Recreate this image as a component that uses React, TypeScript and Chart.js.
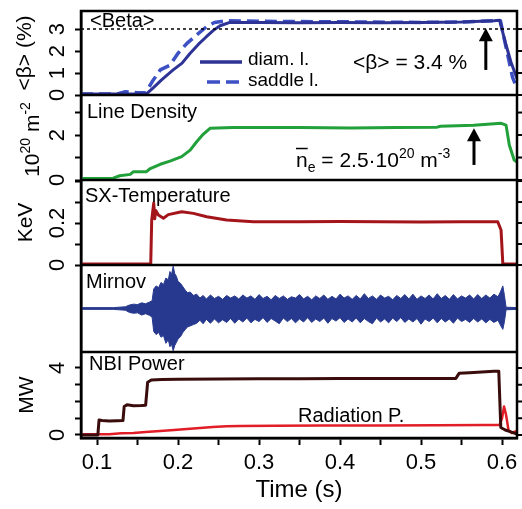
import { useEffect, useRef } from 'react';
import { Chart, registerables } from 'chart.js';

Chart.register(...registerables);

const FONT = '"Liberation Sans", Arial, Helvetica, sans-serif';

// ---------- time axis ----------
const timeMin = 0.0802;
const timeMax = 0.6185;
const timeTickLabels = [0.1, 0.2, 0.3, 0.4, 0.5, 0.6];

// ---------- <Beta> panel ----------
const betaDiamT = [0.0802, 0.161, 0.170, 0.180, 0.194, 0.205, 0.215, 0.225, 0.235, 0.244, 0.252, 0.264, 0.300, 0.350, 0.400, 0.450, 0.500, 0.550, 0.590, 0.597, 0.604, 0.611, 0.6185];
const betaDiamV = [0.05, 0.05, 0.35, 0.70, 1.14, 1.45, 1.90, 2.30, 2.65, 2.95, 3.15, 3.30, 3.30, 3.28, 3.30, 3.28, 3.30, 3.32, 3.38, 3.40, 2.40, 1.50, 0.75];
const betaSaddleT = [0.0802, 0.125, 0.135, 0.150, 0.160, 0.168, 0.178, 0.190, 0.200, 0.211, 0.222, 0.235, 0.245, 0.260, 0.300, 0.400, 0.500, 0.550, 0.590, 0.598, 0.606, 0.613, 0.6185];
const betaSaddleV = [0.05, 0.05, 0.15, 0.10, 0.10, 0.60, 1.14, 1.35, 1.90, 2.35, 2.70, 3.10, 3.30, 3.38, 3.35, 3.33, 3.30, 3.32, 3.38, 3.38, 2.00, 0.80, 0.30];
const betaRefLevel = 3.0;
const betaTickLabels = [0, 1, 2, 3];
const betaArrow = { t: 0.58, from: 1.14, to: 3.03 };

// ---------- Line density panel ----------
const densityT = [0.0802, 0.120, 0.128, 0.141, 0.145, 0.161, 0.165, 0.178, 0.190, 0.2045, 0.215, 0.223, 0.231, 0.2395, 0.268, 0.302, 0.350, 0.414, 0.470, 0.520, 0.524, 0.565, 0.599, 0.605, 0.609, 0.615, 0.6185];
const densityV = [0.07, 0.08, 0.19, 0.25, 0.37, 0.37, 0.49, 0.70, 0.84, 1.04, 1.33, 1.70, 2.03, 2.30, 2.34, 2.34, 2.33, 2.31, 2.33, 2.35, 2.39, 2.44, 2.52, 2.44, 1.56, 0.89, 0.80];
const densityTickLabels = [0, 2];
const densityArrow = { t: 0.5654, from: 0.67, to: 2.30 };

// ---------- SX temperature panel ----------
const sxT = [0.0802, 0.1663, 0.1675, 0.1700, 0.1712, 0.1725, 0.1757, 0.182, 0.188, 0.2045, 0.219, 0.2354, 0.260, 0.293, 0.350, 0.400, 0.450, 0.500, 0.550, 0.5947, 0.5988, 0.601, 0.6185];
const sxV = [0.005, 0.005, 0.214, 0.295, 0.22, 0.26, 0.238, 0.223, 0.240, 0.254, 0.246, 0.230, 0.214, 0.206, 0.206, 0.207, 0.206, 0.205, 0.206, 0.206, 0.167, 0.005, 0.005];
const sxTickLabels = [0, 0.2];

// ---------- Mirnov panel (signal envelope) ----------
const mirnovT = [
  0.0802, 0.120, 0.135, 0.140, 0.145, 0.150, 0.155, 0.160, 0.165, 0.168,
  0.170, 0.173, 0.176, 0.179, 0.182, 0.185, 0.188, 0.190, 0.192, 0.194,
  0.196, 0.198, 0.200, 0.203, 0.206, 0.209, 0.212, 0.215, 0.219, 0.223,
  0.227, 0.231, 0.235, 0.240, 0.245, 0.250, 0.255, 0.260, 0.265, 0.270,
  0.275, 0.280, 0.285, 0.290, 0.295, 0.300, 0.305, 0.310, 0.315, 0.320,
  0.325, 0.330, 0.335, 0.340, 0.345, 0.350, 0.355, 0.360, 0.365, 0.370,
  0.375, 0.380, 0.385, 0.390, 0.395, 0.400, 0.405, 0.410, 0.415, 0.420,
  0.425, 0.430, 0.435, 0.440, 0.445, 0.450, 0.455, 0.460, 0.465, 0.470,
  0.475, 0.480, 0.485, 0.490, 0.495, 0.500, 0.505, 0.510, 0.515, 0.520,
  0.525, 0.530, 0.535, 0.540, 0.545, 0.550, 0.555, 0.560, 0.565, 0.570,
  0.575, 0.580, 0.585, 0.590, 0.595, 0.598, 0.601, 0.603, 0.605, 0.6185,
];
const mirnovHi = [
  0.02, 0.02, 0.04, 0.08, 0.10, 0.09, 0.13, 0.11, 0.15, 0.18,
  0.45, 0.52, 0.48, 0.60, 0.55, 0.70, 0.66, 0.85, 0.78, 0.97,
  0.80, 0.74, 0.62, 0.58, 0.50, 0.42, 0.36, 0.38, 0.30, 0.33,
  0.24, 0.30, 0.22, 0.31, 0.23, 0.28, 0.21, 0.30, 0.24, 0.29,
  0.22, 0.31, 0.24, 0.29, 0.21, 0.32, 0.23, 0.28, 0.20, 0.30,
  0.23, 0.29, 0.21, 0.27, 0.24, 0.32, 0.22, 0.28, 0.20, 0.29,
  0.23, 0.31, 0.21, 0.28, 0.22, 0.33, 0.24, 0.29, 0.21, 0.30,
  0.22, 0.34, 0.23, 0.29, 0.21, 0.31, 0.24, 0.28, 0.20, 0.30,
  0.23, 0.32, 0.22, 0.33, 0.21, 0.29, 0.23, 0.31, 0.22, 0.34,
  0.23, 0.30, 0.21, 0.32, 0.22, 0.29, 0.24, 0.31, 0.22, 0.32,
  0.23, 0.31, 0.24, 0.33, 0.27, 0.38, 0.52, 0.30, 0.03, 0.02,
];
const mirnovLo = [
  -0.02, -0.02, -0.04, -0.09, -0.11, -0.10, -0.15, -0.12, -0.16, -0.20,
  -0.53, -0.60, -0.55, -0.66, -0.62, -0.80, -0.72, -0.88, -0.82, -0.97,
  -0.85, -0.78, -0.70, -0.65, -0.55, -0.48, -0.42, -0.40, -0.37, -0.34,
  -0.27, -0.35, -0.25, -0.34, -0.24, -0.33, -0.26, -0.32, -0.23, -0.34,
  -0.24, -0.31, -0.22, -0.33, -0.25, -0.30, -0.21, -0.32, -0.23, -0.29,
  -0.35, -0.22, -0.30, -0.23, -0.33, -0.24, -0.31, -0.21, -0.32, -0.24,
  -0.30, -0.22, -0.34, -0.23, -0.29, -0.21, -0.32, -0.24, -0.31, -0.22,
  -0.33, -0.23, -0.30, -0.35, -0.22, -0.31, -0.24, -0.33, -0.22, -0.30,
  -0.21, -0.32, -0.24, -0.31, -0.23, -0.36, -0.24, -0.30, -0.22, -0.33,
  -0.23, -0.31, -0.24, -0.34, -0.22, -0.30, -0.25, -0.32, -0.23, -0.31,
  -0.24, -0.33, -0.25, -0.32, -0.27, -0.38, -0.48, -0.30, -0.03, -0.02,
];

// ---------- NBI power / radiation panel ----------
const nbiT = [0.0802, 0.101, 0.1025, 0.106, 0.115, 0.125, 0.132, 0.1335, 0.137, 0.145, 0.155, 0.160, 0.1625, 0.167, 0.180, 0.200, 0.250, 0.300, 0.350, 0.400, 0.450, 0.500, 0.543, 0.547, 0.560, 0.575, 0.590, 0.596, 0.5985, 0.604, 0.610, 0.6185];
const nbiV = [0.00, 0.00, 0.90, 0.86, 0.84, 0.85, 0.86, 1.70, 1.80, 1.75, 1.76, 1.78, 3.15, 3.28, 3.32, 3.33, 3.35, 3.36, 3.36, 3.37, 3.37, 3.38, 3.38, 3.68, 3.72, 3.76, 3.80, 3.80, 0.45, 0.30, 0.20, 0.05];
const radT = [0.0802, 0.115, 0.130, 0.145, 0.160, 0.178, 0.195, 0.211, 0.227, 0.243, 0.260, 0.2765, 0.320, 0.380, 0.450, 0.520, 0.580, 0.597, 0.600, 0.6025, 0.605, 0.608, 0.612, 0.6185];
const radV = [0.05, 0.05, 0.10, 0.12, 0.18, 0.24, 0.30, 0.36, 0.42, 0.48, 0.52, 0.54, 0.55, 0.56, 0.57, 0.58, 0.59, 0.60, 1.00, 1.70, 1.20, 0.30, 0.12, 0.25];
const nbiTickLabels = [0, 4];

// ---------- texts ----------
const panelIds = ['yB', 'yD', 'yS', 'yM', 'yN'];
const panelLabels = ['<Beta>', 'Line Density', 'SX-Temperature', 'Mirnov', 'NBI Power'];
const labelDx = [9, 6, 4, 5, 8];
const labelDy = [16, 23, 22, 23, 18];

const pts = (t: number[], v: number[]) => t.map((x, i) => ({ x, y: v[i] }));

const labelFor = (v: number, labels: number[]) =>
  labels.some((l) => Math.abs(l - v) < 1e-6) ? String(+Number(v).toFixed(2)) : '';

function yAxis(o: any) {
  const show = o.labels !== null;
  return {
    type: 'linear',
    position: 'left',
    stack: 'panels',
    stackWeight: o.weight,
    min: o.min,
    max: o.max,
    border: { display: true, color: '#000', width: 2.5 },
    grid: { display: show, drawOnChartArea: false, drawTicks: true, tickLength: 6, tickWidth: 2, tickColor: '#000' },
    ticks: {
      display: show,
      stepSize: o.step,
      autoSkip: false,
      includeBounds: false,
      minRotation: 90,
      maxRotation: 90,
      crossAlign: 'center',
      padding: o.pad,
      color: '#000',
      font: { family: FONT, size: 22 },
      callback: (v: number) => (show ? labelFor(v, o.labels) : ''),
    },
    title: {
      display: !!o.title,
      text: o.title || '',
      color: '#000',
      font: { family: FONT, size: 21 },
      padding: { top: o.titlePad ?? 14, bottom: 0 },
    },
    afterFit: (s: any) => {
      s.width = 81;
      s.paddingTop = 0;
      s.paddingBottom = 0;
    },
  };
}

type Part = { text: string; sup?: boolean; sub?: boolean; over?: boolean };

function richWidth(ctx: CanvasRenderingContext2D, parts: Part[], size: number) {
  let w = 0;
  for (const p of parts) {
    const fs = p.sup || p.sub ? Math.round(size * 0.66) : size;
    ctx.font = `${fs}px ${FONT}`;
    w += ctx.measureText(p.text).width;
  }
  return w;
}

function drawRich(ctx: CanvasRenderingContext2D, parts: Part[], x: number, y: number, size: number) {
  let cx = x;
  ctx.textAlign = 'left';
  ctx.textBaseline = 'alphabetic';
  for (const p of parts) {
    const fs = p.sup || p.sub ? Math.round(size * 0.66) : size;
    ctx.font = `${fs}px ${FONT}`;
    const dy = p.sup ? -size * 0.42 : p.sub ? size * 0.25 : 0;
    ctx.fillText(p.text, cx, y + dy);
    const w = ctx.measureText(p.text).width;
    if (p.over) {
      ctx.save();
      ctx.lineWidth = 1.5;
      ctx.beginPath();
      ctx.moveTo(cx, y - size * 0.88);
      ctx.lineTo(cx + w, y - size * 0.88);
      ctx.stroke();
      ctx.restore();
    }
    cx += w;
  }
}

function drawArrow(ctx: CanvasRenderingContext2D, x: number, yTail: number, yTip: number) {
  ctx.save();
  ctx.strokeStyle = '#000';
  ctx.fillStyle = '#000';
  ctx.lineWidth = 3;
  ctx.beginPath();
  ctx.moveTo(x, yTail);
  ctx.lineTo(x, yTip + 10);
  ctx.stroke();
  ctx.beginPath();
  ctx.moveTo(x, yTip);
  ctx.lineTo(x - 7, yTip + 13);
  ctx.lineTo(x + 7, yTip + 13);
  ctx.closePath();
  ctx.fill();
  ctx.restore();
}

const overlayPlugin = {
  id: 'overlay',
  afterDraw(chart: any) {
    const { ctx, chartArea: ca } = chart;
    const s = chart.scales;
    const xs = s.x;
    ctx.save();
    ctx.strokeStyle = '#000';
    ctx.fillStyle = '#000';

    // mirrored ticks on the right edge
    ctx.lineWidth = 2;
    for (const id of ['yB', 'yD', 'yS', 'yN']) {
      const sc = s[id];
      for (const t of sc.ticks) {
        const py = sc.getPixelForValue(t.value);
        ctx.beginPath();
        ctx.moveTo(ca.right, py);
        ctx.lineTo(ca.right + 5, py);
        ctx.stroke();
      }
    }

    // panel separators + frame
    ctx.lineWidth = 2.5;
    for (const id of ['yD', 'yS', 'yM', 'yN']) {
      const y = s[id].top;
      ctx.beginPath();
      ctx.moveTo(ca.left, y);
      ctx.lineTo(ca.right, y);
      ctx.stroke();
    }
    ctx.strokeRect(ca.left, ca.top, ca.right - ca.left, ca.bottom - ca.top);

    // panel labels
    ctx.font = `20px ${FONT}`;
    ctx.textAlign = 'left';
    ctx.textBaseline = 'alphabetic';
    panelIds.forEach((id, i) => {
      ctx.fillText(panelLabels[i], ca.left + labelDx[i], s[id].top + labelDy[i]);
    });

    // legend in beta panel
    const yb = s.yB.top;
    ctx.save();
    ctx.lineWidth = 3.5;
    ctx.strokeStyle = '#2e3396';
    ctx.beginPath();
    ctx.moveTo(ca.left + 119, yb + 51);
    ctx.lineTo(ca.left + 161, yb + 51);
    ctx.stroke();
    ctx.strokeStyle = '#3d50c4';
    ctx.setLineDash([13, 6]);
    ctx.beginPath();
    ctx.moveTo(ca.left + 126, yb + 71);
    ctx.lineTo(ca.left + 161, yb + 71);
    ctx.stroke();
    ctx.restore();
    ctx.font = `19px ${FONT}`;
    ctx.fillText('diam. l.', ca.left + 167, yb + 54);
    ctx.fillText('saddle l.', ca.left + 167, yb + 75);

    ctx.font = `21px ${FONT}`;
    ctx.fillText('<β> = 3.4 %', ca.left + 272, yb + 58);

    // arrows
    drawArrow(ctx, xs.getPixelForValue(betaArrow.t), s.yB.getPixelForValue(betaArrow.from), s.yB.getPixelForValue(betaArrow.to));
    drawArrow(ctx, xs.getPixelForValue(densityArrow.t), s.yD.getPixelForValue(densityArrow.from), s.yD.getPixelForValue(densityArrow.to));

    // density annotation
    drawRich(
      ctx,
      [
        { text: 'n', over: true },
        { text: 'e', sub: true },
        { text: ' = 2.5·10' },
        { text: '20', sup: true },
        { text: ' m' },
        { text: '-3', sup: true },
      ],
      ca.left + 215,
      s.yD.top + 72,
      21,
    );

    // radiation label
    ctx.font = `20px ${FONT}`;
    ctx.fillText('Radiation P.', ca.left + 217, s.yN.top + 70);

    // density y-axis title (rotated, with superscripts)
    const titleParts: Part[] = [
      { text: '10' },
      { text: '20', sup: true },
      { text: ' m' },
      { text: '-2', sup: true },
    ];
    const tw = richWidth(ctx, titleParts, 21);
    const cy = (s.yD.top + s.yD.bottom) / 2 + 2;
    ctx.save();
    ctx.translate(31, cy);
    ctx.rotate(-Math.PI / 2);
    drawRich(ctx, titleParts, -tw / 2, 7.5, 21);
    ctx.restore();

    ctx.restore();
  },
};

export default function App() {
  const ref = useRef<HTMLCanvasElement>(null);

  useEffect(() => {
    if (!ref.current) return;
    Chart.defaults.font.family = FONT;
    Chart.defaults.color = '#000';

    const line = (extra: any) => ({
      pointRadius: 0,
      pointHoverRadius: 0,
      tension: 0,
      fill: false,
      borderJoinStyle: 'round',
      ...extra,
    });

    const chart = new Chart(ref.current, {
      type: 'line',
      data: {
        datasets: [
          line({ label: 'ref', data: pts([timeMin, timeMax], [betaRefLevel, betaRefLevel]), yAxisID: 'yB', borderColor: '#000', borderWidth: 1.5, borderDash: [3, 3] }),
          line({ label: 'diam. l.', data: pts(betaDiamT, betaDiamV), yAxisID: 'yB', borderColor: '#2e3396', borderWidth: 3 }),
          line({ label: 'saddle l.', data: pts(betaSaddleT, betaSaddleV), yAxisID: 'yB', borderColor: '#3d50c4', borderWidth: 3.5, borderDash: [12, 6] }),
          line({ label: 'Line Density', data: pts(densityT, densityV), yAxisID: 'yD', borderColor: '#22a03a', borderWidth: 3 }),
          line({ label: 'SX-Temperature', data: pts(sxT, sxV), yAxisID: 'yS', borderColor: '#a3151b', borderWidth: 3 }),
          line({ label: 'Mirnov hi', data: pts(mirnovT, mirnovHi), yAxisID: 'yM', borderColor: '#27398e', borderWidth: 1 }),
          line({ label: 'Mirnov lo', data: pts(mirnovT, mirnovLo), yAxisID: 'yM', borderColor: '#27398e', borderWidth: 1, fill: '-1', backgroundColor: '#27398e' }),
          line({ label: 'NBI Power', data: pts(nbiT, nbiV), yAxisID: 'yN', borderColor: '#3a0c0c', borderWidth: 3 }),
          line({ label: 'Radiation P.', data: pts(radT, radV), yAxisID: 'yN', borderColor: '#e11d27', borderWidth: 2.5 }),
        ],
      },
      options: {
        responsive: false,
        animation: false,
        devicePixelRatio: 1,
        layout: { padding: { left: 0, right: 5, top: 11, bottom: 0 } },
        plugins: { legend: { display: false }, tooltip: { enabled: false }, title: { display: false } },
        events: [],
        scales: {
          yN: yAxis({ weight: 86, min: -0.18, max: 4.955, step: 1, labels: nbiTickLabels, pad: 11, title: 'MW', titlePad: 15 }),
          yM: yAxis({ weight: 87, min: -1, max: 1, step: 1, labels: null, pad: 0, title: '' }),
          yS: yAxis({ weight: 85, min: 0, max: 0.405, step: 0.1, labels: sxTickLabels, pad: 2, title: 'KeV', titlePad: 14 }),
          yD: yAxis({ weight: 85, min: 0, max: 3.78, step: 1, labels: densityTickLabels, pad: 11, title: '' }),
          yB: yAxis({ weight: 84, min: 0, max: 3.82, step: 1, labels: betaTickLabels, pad: 11, title: '<β> (%)', titlePad: 13 }),
          x: {
            type: 'linear',
            position: 'bottom',
            min: timeMin,
            max: timeMax,
            border: { display: true, color: '#000', width: 2.5 },
            grid: { drawOnChartArea: false, drawTicks: true, tickLength: 7, tickWidth: 2, tickColor: '#000' },
            ticks: {
              stepSize: 0.05,
              includeBounds: false,
              autoSkip: false,
              minRotation: 0,
              maxRotation: 0,
              padding: 5,
              color: '#000',
              font: { family: FONT, size: 22 },
              callback: (v: number) => labelFor(v, timeTickLabels),
            },
            title: { display: true, text: 'Time (s)', color: '#000', font: { family: FONT, size: 24 }, padding: { top: 0, bottom: 4 } },
            afterFit: (s: any) => {
              s.height = 71;
              s.paddingLeft = 0;
              s.paddingRight = 0;
            },
          },
        },
      } as any,
      plugins: [overlayPlugin],
    } as any);

    return () => chart.destroy();
  }, []);

  return (
    <div style={{ position: 'fixed', left: 0, top: 0, width: 522, height: 509, background: '#fff' }}>
      <canvas ref={ref} width={522} height={509} style={{ width: 522, height: 509, display: 'block' }} />
    </div>
  );
}
